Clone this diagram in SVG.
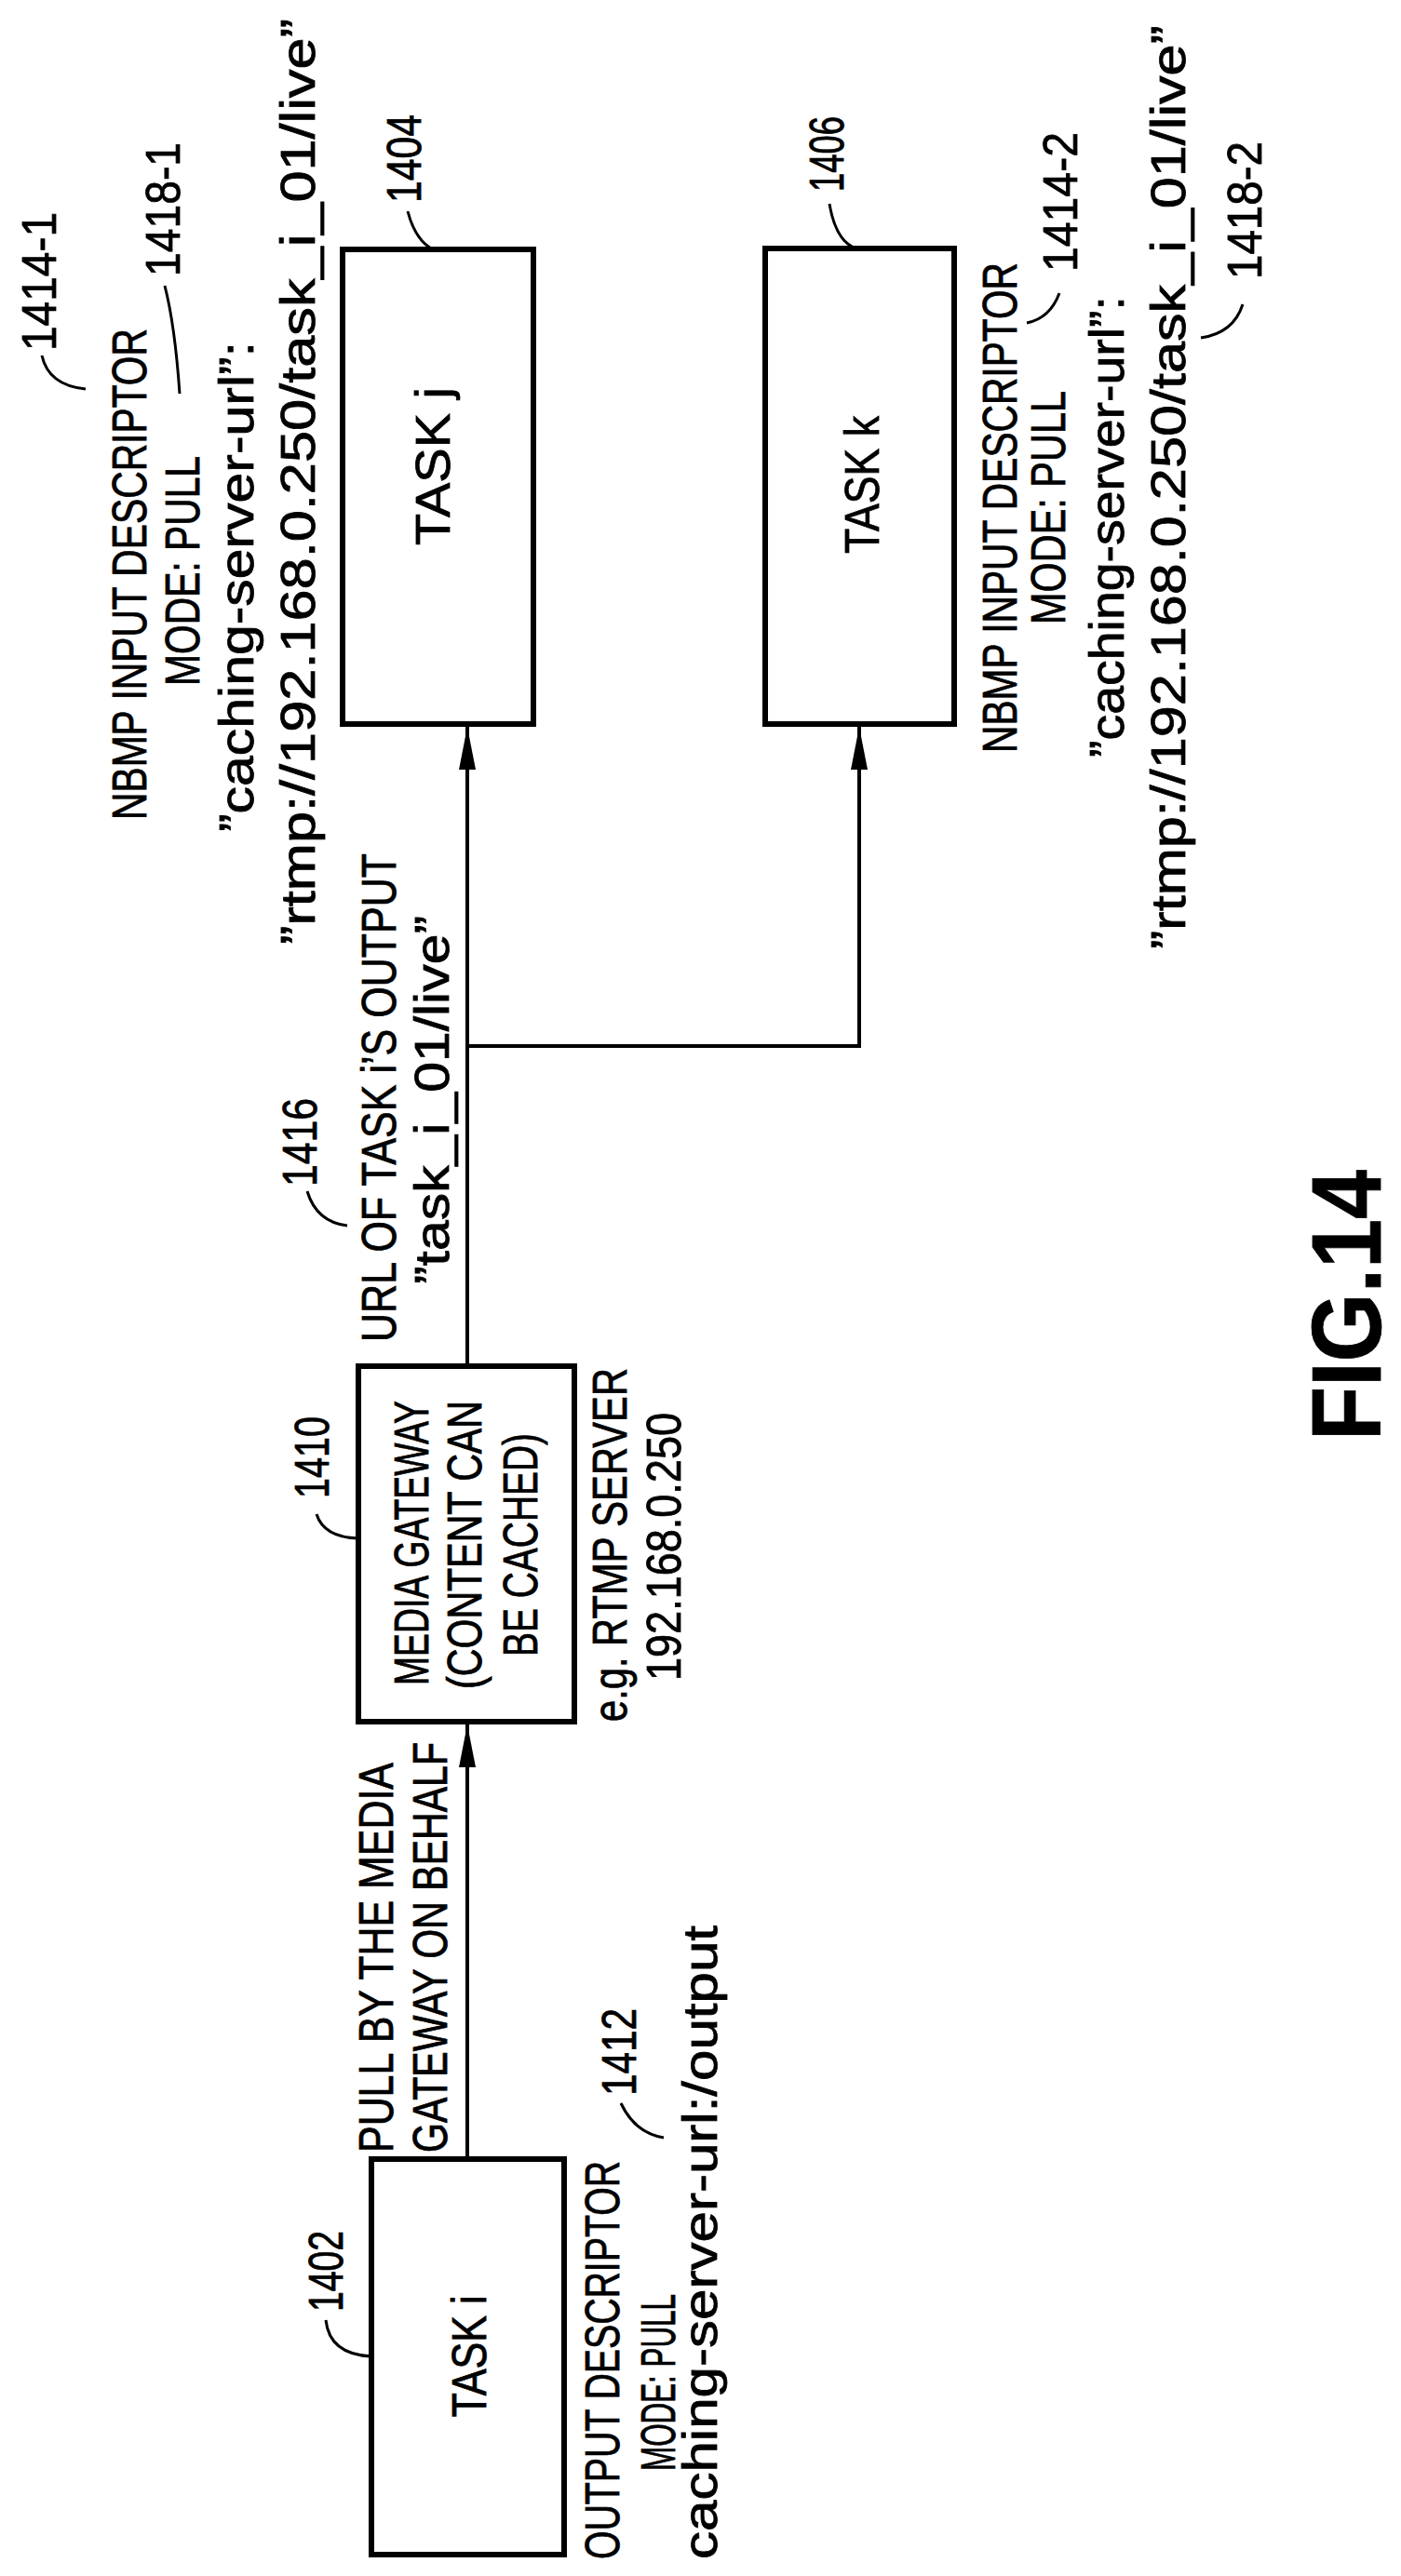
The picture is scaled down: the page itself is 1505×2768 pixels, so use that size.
<svg xmlns="http://www.w3.org/2000/svg" width="1505" height="2768" viewBox="0 0 1505 2768">
<style>
text{font-family:"Liberation Sans",Arial,sans-serif;font-size:52px;fill:#000;stroke:#000;stroke-width:0.8}
.box{fill:#fff;stroke:#000;stroke-width:6}
.ln{fill:none;stroke:#000;stroke-width:4}
.ld{fill:none;stroke:#000;stroke-width:3}
.fig{font-weight:bold;font-size:105px}
</style>
<defs>
<marker id="ah" markerUnits="userSpaceOnUse" markerWidth="48" markerHeight="18" refX="46" refY="9" orient="auto" viewBox="0 0 48 18">
<path d="M0,0 L46,9 L0,18 Z" fill="#000"/>
</marker>
</defs>
<rect width="1505" height="2768" fill="#fff" stroke="none"/>

<g id="connectors">
<line class="ln" x1="502" y1="2320" x2="502" y2="1853" marker-end="url(#ah)"/>
<line class="ln" x1="502" y1="1468" x2="502" y2="781" marker-end="url(#ah)"/>
<polyline class="ln" points="502,1124 923,1124 923,781" marker-end="url(#ah)"/>
</g>

<g id="task-i">
<rect class="box" x="399" y="2320" width="207" height="425"/>
<text transform="translate(522,2532) rotate(-90)" text-anchor="middle" textLength="131" lengthAdjust="spacingAndGlyphs">TASK i</text>
<text transform="translate(368,2484) rotate(-90)" textLength="87" lengthAdjust="spacingAndGlyphs">1402</text>
<path class="ld" d="M350,2493 Q354,2530 399,2532"/>
<text transform="translate(665,2750) rotate(-90)" textLength="428" lengthAdjust="spacingAndGlyphs">OUTPUT DESCRIPTOR</text>
<text transform="translate(725,2655) rotate(-90)" textLength="190" lengthAdjust="spacingAndGlyphs">MODE:  PULL</text>
<text transform="translate(770,2750) rotate(-90)" textLength="681" lengthAdjust="spacingAndGlyphs">caching-server-url:/output</text>
<text transform="translate(683,2252) rotate(-90)" textLength="94" lengthAdjust="spacingAndGlyphs">1412</text>
<path class="ld" d="M667,2260 Q682,2292 713,2297"/>
</g>

<g id="pull-label">
<text transform="translate(422,2313) rotate(-90)" textLength="419" lengthAdjust="spacingAndGlyphs">PULL BY THE MEDIA</text>
<text transform="translate(480,2313) rotate(-90)" textLength="441" lengthAdjust="spacingAndGlyphs">GATEWAY ON BEHALF</text>
</g>

<g id="media-gateway">
<rect class="box" x="385" y="1468" width="232" height="382"/>
<text transform="translate(460,1811) rotate(-90)" textLength="306" lengthAdjust="spacingAndGlyphs">MEDIA  GATEWAY</text>
<text transform="translate(517,1815) rotate(-90)" textLength="310" lengthAdjust="spacingAndGlyphs">(CONTENT  CAN</text>
<text transform="translate(577,1780) rotate(-90)" textLength="240" lengthAdjust="spacingAndGlyphs">BE  CACHED)</text>
<text transform="translate(353,1610) rotate(-90)" textLength="88" lengthAdjust="spacingAndGlyphs">1410</text>
<path class="ld" d="M340,1627 Q348,1652 385,1653"/>
<text transform="translate(673,1850) rotate(-90)" textLength="380" lengthAdjust="spacingAndGlyphs">e.g.  RTMP  SERVER</text>
<text transform="translate(731,1806) rotate(-90)" textLength="288" lengthAdjust="spacingAndGlyphs">192.168.0.250</text>
</g>

<g id="url-label">
<text transform="translate(425,1442) rotate(-90)" textLength="525" lengthAdjust="spacingAndGlyphs">URL OF TASK i’S OUTPUT</text>
<text transform="translate(482,1380) rotate(-90)" textLength="396" lengthAdjust="spacingAndGlyphs">”task_i_01/live”</text>
<text transform="translate(340,1275) rotate(-90)" textLength="95" lengthAdjust="spacingAndGlyphs">1416</text>
<path class="ld" d="M330,1280 Q340,1313 373,1317"/>
</g>

<g id="task-j">
<rect class="box" x="368" y="268" width="205" height="510"/>
<text transform="translate(483,501) rotate(-90)" text-anchor="middle" textLength="170" lengthAdjust="spacingAndGlyphs">TASK  j</text>
<text transform="translate(452,218) rotate(-90)" textLength="95" lengthAdjust="spacingAndGlyphs">1404</text>
<path class="ld" d="M438,227 Q446,258 465,268"/>
</g>

<g id="nbmp-1">
<text transform="translate(60,377) rotate(-90)" textLength="149" lengthAdjust="spacingAndGlyphs">1414-1</text>
<path class="ld" d="M45,382 Q52,414 92,418"/>
<text transform="translate(157,881) rotate(-90)" textLength="528" lengthAdjust="spacingAndGlyphs">NBMP INPUT DESCRIPTOR</text>
<text transform="translate(214,737) rotate(-90)" textLength="247" lengthAdjust="spacingAndGlyphs">MODE:  PULL</text>
<text transform="translate(193,297) rotate(-90)" textLength="144" lengthAdjust="spacingAndGlyphs">1418-1</text>
<path class="ld" d="M177,307 Q188,350 193,423"/>
<text transform="translate(272,894) rotate(-90)" textLength="527" lengthAdjust="spacingAndGlyphs">”caching-server-url”:</text>
<text transform="translate(338,1015) rotate(-90)" textLength="995" lengthAdjust="spacingAndGlyphs">”rtmp://192.168.0.250/task_i_01/live”</text>
</g>

<g id="task-k">
<rect class="box" x="822" y="267" width="203" height="511"/>
<text transform="translate(944,521) rotate(-90)" text-anchor="middle" textLength="148" lengthAdjust="spacingAndGlyphs">TASK  k</text>
<text transform="translate(906,206) rotate(-90)" textLength="81" lengthAdjust="spacingAndGlyphs">1406</text>
<path class="ld" d="M891,219 Q898,260 920,267"/>
</g>

<g id="nbmp-2">
<text transform="translate(1092,809) rotate(-90)" textLength="527" lengthAdjust="spacingAndGlyphs">NBMP INPUT DESCRIPTOR</text>
<text transform="translate(1144,671) rotate(-90)" textLength="251" lengthAdjust="spacingAndGlyphs">MODE:  PULL</text>
<text transform="translate(1157,292) rotate(-90)" textLength="150" lengthAdjust="spacingAndGlyphs">1414-2</text>
<path class="ld" d="M1138,315 Q1128,342 1103,347"/>
<text transform="translate(1207,814) rotate(-90)" textLength="496" lengthAdjust="spacingAndGlyphs">”caching-server-url”:</text>
<text transform="translate(1273,1020) rotate(-90)" textLength="993" lengthAdjust="spacingAndGlyphs">”rtmp://192.168.0.250/task_i_01/live”</text>
<text transform="translate(1355,300) rotate(-90)" textLength="148" lengthAdjust="spacingAndGlyphs">1418-2</text>
<path class="ld" d="M1335,327 Q1325,358 1290,363"/>
</g>

<g id="fig-title">
<text class="fig" transform="translate(1483,1548) rotate(-90)" textLength="291" lengthAdjust="spacingAndGlyphs">FIG.14</text>
</g>
</svg>
